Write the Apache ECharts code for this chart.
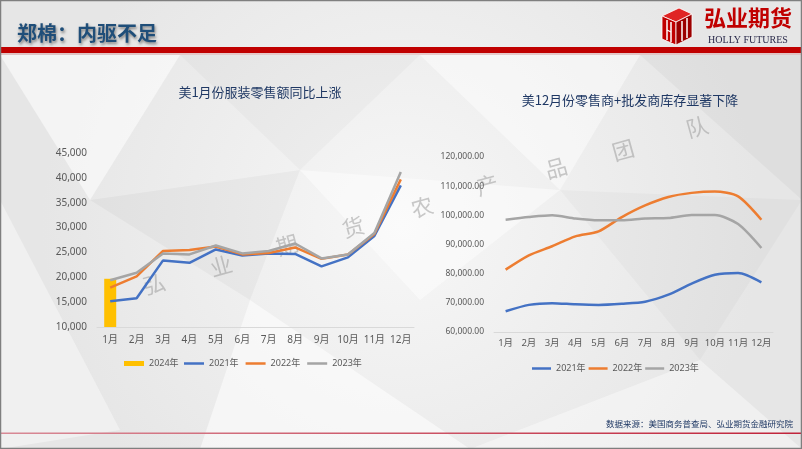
<!DOCTYPE html>
<html>
<head>
<meta charset="utf-8">
<script src="https://cdn.jsdelivr.net/npm/echarts@6/dist/echarts.min.js"></script>
<style>
html,body{margin:0;padding:0;background:#f0f0f0;}
#c{width:802px;height:449px;}
</style>
</head>
<body>
<div id="c"></div>
<script>
// ---- data ----
var categories = ['1月','2月','3月','4月','5月','6月','7月','8月','9月','10月','11月','12月'];
var leftSeriesNames = ['2024年','2021年','2022年','2023年'];
var left2024 = [19700, null, null, null, null, null, null, null, null, null, null, null];
var left2021 = [15200, 15800, 23400, 22900, 25600, 24400, 24800, 24700, 22200, 24000, 28300, 38500];
var left2022 = [17900, 20200, 25300, 25500, 26200, 24600, 24900, 26000, 23700, 24600, 28700, 39700];
var left2023 = [19400, 20900, 24800, 24600, 26400, 24800, 25300, 26800, 23800, 24600, 28900, 41200];

var rightSeriesNames = ['2021年','2022年','2023年'];
var right2021 = [67100, 69300, 69900, 69500, 69300, 69700, 70400, 72800, 76600, 79600, 80200, 77000];
var right2022 = [81400, 86300, 89400, 92800, 94500, 99400, 103400, 106300, 107700, 108200, 106500, 98500];
var right2023 = [98500, 99400, 100000, 98900, 98300, 98300, 98900, 99100, 100100, 100100, 97000, 88800];

var pageTitle = '郑棉：内驱不足';
var leftTitle = '美1月份服装零售额同比上涨';
var rightTitle = '美12月份零售商+批发商库存显著下降';
var sourceText = '数据来源：美国商务普查局、弘业期货金融研究院';
var watermarkChars = ['弘','业','期','货','农','产','品','团','队'];

// ---- styling ----
var C_YELLOW = '#FFC000', C_BLUE = '#4472C4', C_ORANGE = '#ED7D31', C_GRAY = '#A5A5A5';
var FONT = '"Noto Sans", "Noto Sans CJK SC", sans-serif';
var CJK = '"Noto Sans CJK SC", sans-serif';

var chart = echarts.init(document.getElementById('c'), null, {renderer: 'canvas'});

var wmPos = [[154,284],[221,266],[287,245],[353,227],[422,207],[487,185],[556,168],[623,150],[697,127]];
var graphics = [];
// background texture polygons
var polys = [
  [[0,55],[180,55],[90,200]],
  [[180,55],[420,55],[300,170]],
  [[420,55],[640,55],[560,190]],
  [[640,55],[802,55],[802,200]],
  [[0,200],[120,430],[0,449]],
  [[250,300],[470,449],[200,449]],
  [[560,190],[802,200],[700,360]],
  [[300,170],[560,190],[420,300]],
  [[90,200],[300,170],[250,300]],
  [[470,449],[700,360],[802,449]]
];
var shades = ['rgba(255,255,255,0.55)','rgba(0,0,0,0.025)','rgba(255,255,255,0.45)','rgba(0,0,0,0.03)','rgba(255,255,255,0.4)'];
polys.forEach(function(p,i){
  graphics.push({type:'polygon', z:-20, silent:true, shape:{points:p}, style:{fill:shades[i%shades.length]}});
});
// header red bar
graphics.push({type:'rect', z:-5, shape:{x:0,y:47,width:802,height:6}, style:{fill:'#C00000'}});
graphics.push({type:'rect', z:-5, shape:{x:0,y:53,width:802,height:2}, style:{fill:'rgba(192,0,0,0.15)'}});
// header title
graphics.push({type:'text', z:10, style:{text:pageTitle, x:17, y:33, textVerticalAlign:'middle',
  font:'bold 20px ' + CJK, fill:'#1F4E79', textShadowColor:'rgba(0,0,0,0.45)', textShadowBlur:3, textShadowOffsetX:1, textShadowOffsetY:2}});
// logo cube
graphics.push({type:'polygon', z:10, shape:{points:[[662,16],[679,8],[692,14],[676,22]]}, style:{fill:'#E02424', stroke:'#fff', lineWidth:0.8}});
graphics.push({type:'polygon', z:10, shape:{points:[[662,16],[676,22],[676,45],[662,39]]}, style:{fill:'#C00000', stroke:'#fff', lineWidth:0.8}});
graphics.push({type:'polygon', z:10, shape:{points:[[676,22],[692,14],[692,37],[676,45]]}, style:{fill:'#9C0000', stroke:'#fff', lineWidth:0.8}});
graphics.push({type:'polyline', z:11, shape:{points:[[667,20],[667,40]]}, style:{stroke:'#fff', lineWidth:1.5}});
graphics.push({type:'polyline', z:11, shape:{points:[[671,22],[671,42]]}, style:{stroke:'#fff', lineWidth:1.5}});
graphics.push({type:'polyline', z:11, shape:{points:[[667,30],[671,32]]}, style:{stroke:'#fff', lineWidth:1.2}});
graphics.push({type:'polyline', z:11, shape:{points:[[682,21],[682,41]]}, style:{stroke:'#fff', lineWidth:1.5}});
graphics.push({type:'polyline', z:11, shape:{points:[[687,18],[687,38]]}, style:{stroke:'#fff', lineWidth:1.5}});
graphics.push({type:'text', z:10, style:{text:'弘业期货', x:748, y:18, textAlign:'center', textVerticalAlign:'middle',
  font:'bold 22px ' + CJK, fill:'#C00000'}});
graphics.push({type:'text', z:10, style:{text:'HOLLY FUTURES', x:748, y:40, textAlign:'center', textVerticalAlign:'middle',
  font:'10px "Liberation Serif", serif', fill:'#2B2B4B'}});
// chart titles
graphics.push({type:'text', z:10, style:{text:leftTitle, x:260, y:92, textAlign:'center', textVerticalAlign:'middle',
  font:'13px ' + CJK, fill:'#1F3864'}});
graphics.push({type:'text', z:10, style:{text:rightTitle, x:630, y:100, textAlign:'center', textVerticalAlign:'middle',
  font:'13px ' + CJK, fill:'#1F3864'}});
// watermark
watermarkChars.forEach(function(ch,i){
  graphics.push({type:'text', z:-10, silent:true, x:wmPos[i][0], y:wmPos[i][1], rotation:0.27,
    style:{text:ch, x:0, y:0, textAlign:'center', textVerticalAlign:'middle', font:'22px ' + CJK, fill:'rgba(150,150,150,0.5)'}});
});
// footer
graphics.push({type:'text', z:10, style:{text:sourceText, x:793, y:424, textAlign:'right', textVerticalAlign:'middle',
  font:'8.5px ' + CJK, fill:'#1F3864'}});
graphics.push({type:'rect', z:5, shape:{x:0,y:432.5,width:802,height:1.5}, style:{fill:new echarts.graphic.LinearGradient(0,0,1,0,[{offset:0,color:'#D88A96'},{offset:1,color:'#C0233A'}])}});
// border
graphics.push({type:'rect', z:30, silent:true, shape:{x:0.5,y:0.5,width:801,height:448}, style:{fill:'none', stroke:'#7F7F7F', lineWidth:1.5}});

function fmtInt(v){ return Number(v).toLocaleString('en-US'); }
function fmt2(v){ return Number(v).toLocaleString('en-US',{minimumFractionDigits:2, maximumFractionDigits:2}); }

var axisLabelStyle = {color:'#595959', fontFamily: FONT};
var legendText = {fontSize:9, color:'#595959', fontFamily:FONT};
function lineLegendData(names){ return names.map(function(n){ return {name:n, icon:'rect'}; }); }

var option = {
  animation: false,
  backgroundColor: {type:'radial', x:0.5, y:0.5, r:0.8, colorStops:[{offset:0,color:'#F7F7F7'},{offset:1,color:'#E6E6E6'}]},
  textStyle: {fontFamily: FONT},
  graphic: graphics,
  grid: [
    {left: 97, top: 153, width: 317, height: 174},
    {left: 494, top: 157, width: 279, height: 175}
  ],
  xAxis: [
    {type:'category', gridIndex:0, data: categories,
      axisLine:{lineStyle:{color:'#D9D9D9'}}, axisTick:{show:false},
      axisLabel: Object.assign({fontSize:10, margin:8, interval:0}, axisLabelStyle)},
    {type:'category', gridIndex:1, data: categories,
      axisLine:{lineStyle:{color:'#D9D9D9'}}, axisTick:{show:false},
      axisLabel: Object.assign({fontSize:9.5, margin:7, interval:0}, axisLabelStyle)}
  ],
  yAxis: [
    {type:'value', gridIndex:0, min:10000, max:45000, interval:5000,
      axisLine:{show:false}, axisTick:{show:false}, splitLine:{show:false},
      axisLabel: Object.assign({fontSize:10, margin:10, formatter: fmtInt}, axisLabelStyle)},
    {type:'value', gridIndex:1, min:60000, max:120000, interval:10000,
      axisLine:{show:false}, axisTick:{show:false}, splitLine:{show:false},
      axisLabel: Object.assign({fontSize:8.5, margin:10, formatter: fmt2}, axisLabelStyle)}
  ],
  legend: [
    {data: [{name:leftSeriesNames[0], icon:'rect'}], left:119, top:354, itemWidth:20, itemHeight:5, itemGap:7,
      textStyle:legendText},
    {data: lineLegendData(leftSeriesNames.slice(1)), left:179, top:354, itemWidth:20, itemHeight:2.5, itemGap:7,
      textStyle:legendText},
    {data: lineLegendData(rightSeriesNames), left:527, top:359, itemWidth:19, itemHeight:2.5, itemGap:3,
      textStyle:legendText}
  ],
  series: [
    {name:leftSeriesNames[0], type:'bar', xAxisIndex:0, yAxisIndex:0, data:left2024, barWidth:12,
      itemStyle:{color:C_YELLOW}},
    {name:leftSeriesNames[1], type:'line', xAxisIndex:0, yAxisIndex:0, data:left2021, symbol:'none',
      lineStyle:{width:2.5, color:C_BLUE}, itemStyle:{color:C_BLUE}},
    {name:leftSeriesNames[2], type:'line', xAxisIndex:0, yAxisIndex:0, data:left2022, symbol:'none',
      lineStyle:{width:2.5, color:C_ORANGE}, itemStyle:{color:C_ORANGE}},
    {name:leftSeriesNames[3], type:'line', xAxisIndex:0, yAxisIndex:0, data:left2023, symbol:'none',
      lineStyle:{width:2.5, color:C_GRAY}, itemStyle:{color:C_GRAY}},
    {name:rightSeriesNames[0], type:'line', xAxisIndex:1, yAxisIndex:1, data:right2021, symbol:'none', smooth:0.25,
      lineStyle:{width:2.5, color:C_BLUE}, itemStyle:{color:C_BLUE}},
    {name:rightSeriesNames[1], type:'line', xAxisIndex:1, yAxisIndex:1, data:right2022, symbol:'none', smooth:0.25,
      lineStyle:{width:2.5, color:C_ORANGE}, itemStyle:{color:C_ORANGE}},
    {name:rightSeriesNames[2], type:'line', xAxisIndex:1, yAxisIndex:1, data:right2023, symbol:'none', smooth:0.25,
      lineStyle:{width:2.5, color:C_GRAY}, itemStyle:{color:C_GRAY}}
  ]
};
chart.setOption(option);
</script>
</body>
</html>
